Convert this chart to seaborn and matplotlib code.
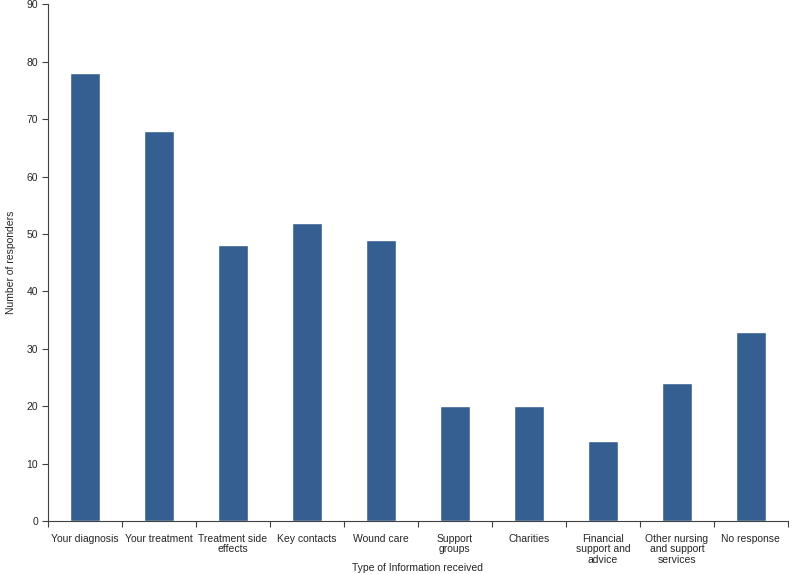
import matplotlib
matplotlib.use("Agg")
import matplotlib.pyplot as plt
import seaborn as sns
import pandas as pd
import numpy as np

# Chart data
categories = ["Your diagnosis", "Your treatment", "Treatment side\neffects",
              "Key contacts", "Wound care", "Support\ngroups", "Charities",
              "Financial\nsupport and\nadvice", "Other nursing\nand support\nservices",
              "No response"]
responders = [78, 68, 48, 52, 49, 20, 20, 14, 24, 33]
y_ticks = list(range(0, 91, 10))

sns.set_style("white")
plt.rcParams['font.family'] = ['Liberation Sans', 'DejaVu Sans']

df = pd.DataFrame({"category": categories, "count": responders})

fig = plt.figure(figsize=(7.93, 5.74), dpi=100)
ax = fig.add_axes([0.0605, 0.0923, 0.933, 0.9])

sns.barplot(data=df, x="category", y="count", color="#355F91", width=0.4,
            saturation=1, ax=ax)

ax.set_xlim(-0.5, len(categories) - 0.5)
ax.set_ylim(0, 90)
ax.set_yticks(y_ticks)
ax.tick_params(axis='y', direction='out', length=4, width=0.8, labelsize=7.5,
               left=True, color='#404040', pad=3)
ax.tick_params(axis='x', which='major', length=0, labelsize=7.5, pad=9)
ax.set_xticks(np.arange(len(categories) + 1) - 0.5, minor=True)
ax.tick_params(axis='x', which='minor', direction='out', length=4, width=0.8,
               bottom=True, color='#404040')
for lbl in ax.get_xticklabels():
    lbl.set_linespacing(1.1)

for spine in ['top', 'right']:
    ax.spines[spine].set_visible(False)
for spine in ['left', 'bottom']:
    ax.spines[spine].set_color('#404040')
    ax.spines[spine].set_linewidth(0.8)

ax.set_xlabel("Type of Information received", fontsize=7.5)
ax.xaxis.set_label_coords(0.5, -0.082)
ax.set_ylabel("Number of responders", fontsize=7.5, labelpad=8)

fig.savefig("out.png", dpi=100)
